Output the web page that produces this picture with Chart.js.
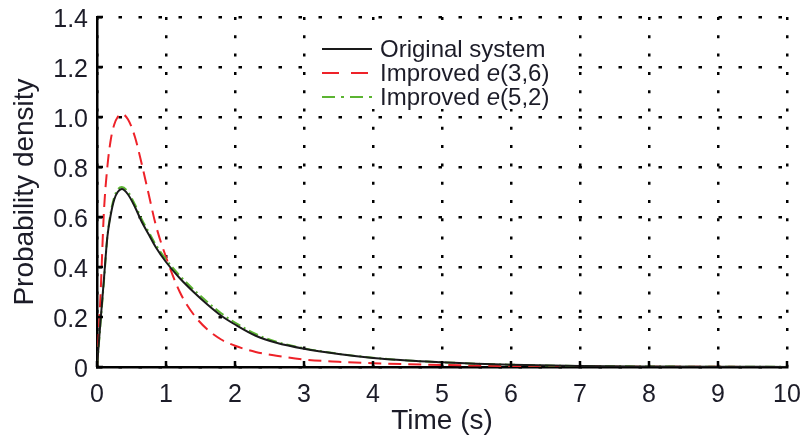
<!DOCTYPE html>
<html>
<head>
<meta charset="utf-8">
<title>Probability density</title>
<script src="https://cdn.jsdelivr.net/npm/chart.js@4/dist/chart.umd.min.js"></script>
<style>
  body { margin: 0; background: #fff; }
</style>
</head>
<body>
<canvas id="myChart" width="806" height="440"></canvas>
<script>
// time samples (s)
const times = [0, 0.05, 0.1, 0.15, 0.2, 0.25, 0.3, 0.36, 0.45, 0.55, 0.65, 0.75, 0.85, 1.0,
    1.2, 1.4, 1.6, 1.8, 2.0, 2.3, 2.6, 3.0, 3.5, 4.0, 4.5, 5.0, 5.5, 6, 7, 8, 9, 10];

const originalSystem = [0, 0.18, 0.35, 0.52, 0.61, 0.67, 0.70, 0.712, 0.69, 0.64, 0.58, 0.53, 0.48, 0.42,
    0.355, 0.30, 0.25, 0.205, 0.17, 0.125, 0.097, 0.073, 0.052, 0.036, 0.026, 0.019, 0.013, 0.009, 0.004, 0.002, 0.001, 0.0005];

const improved36 = [0, 0.28, 0.62, 0.80, 0.91, 0.97, 1.0, 1.012, 0.99, 0.92, 0.81, 0.69, 0.57, 0.44,
    0.30, 0.21, 0.15, 0.11, 0.085, 0.06, 0.045, 0.03, 0.021, 0.015, 0.011, 0.008, 0.006, 0.004, 0.002, 0.001, 0.0006, 0.0003];

const improved52 = [0, 0.17, 0.34, 0.52, 0.62, 0.68, 0.71, 0.72, 0.70, 0.65, 0.59, 0.54, 0.49, 0.43,
    0.365, 0.31, 0.26, 0.215, 0.178, 0.132, 0.101, 0.075, 0.053, 0.037, 0.026, 0.019, 0.013, 0.009, 0.004, 0.002, 0.001, 0.0005];

const seriesLabels = ['Original system', 'Improved e(3,6)', 'Improved e(5,2)'];
const xTicks = [0, 1, 2, 3, 4, 5, 6, 7, 8, 9, 10];
const yTicks = [0, 0.2, 0.4, 0.6, 0.8, 1.0, 1.2, 1.4];

const FONT = "'Liberation Sans', Arial, sans-serif";
const TEXT = '#1c1c28';

function toPoints(vals) {
    return times.map(function(t, i) { return { x: t, y: vals[i] }; });
}

// inward tick marks + legend drawn by hand (italic e)
const extras = {
    id: 'extras',
    afterDraw: function(chart) {
        const ctx = chart.ctx;
        const a = chart.chartArea;
        const xs = chart.scales.x, ys = chart.scales.y;
        ctx.save();
        ctx.strokeStyle = '#000';
        ctx.lineWidth = 2.5;
        ctx.beginPath();
        xTicks.forEach(function(v) {
            const p = xs.getPixelForValue(v);
            ctx.moveTo(p, a.bottom);
            ctx.lineTo(p, a.bottom - 6);
        });
        yTicks.forEach(function(v) {
            const p = ys.getPixelForValue(v);
            ctx.moveTo(a.left, p);
            ctx.lineTo(a.left + 6, p);
        });
        ctx.stroke();

        // legend
        ctx.fillStyle = '#fff';
        ctx.fillRect(312, 31, 262, 78);
        const rows = [49, 73, 97];
        chart.data.datasets.forEach(function(ds, i) {
            const y = rows[i];
            ctx.strokeStyle = ds.borderColor;
            ctx.lineWidth = ds.borderWidth;
            ctx.setLineDash(ds.legendDash || ds.borderDash || []);
            ctx.beginPath();
            ctx.moveTo(322, y);
            ctx.lineTo(372, y);
            ctx.stroke();
            ctx.setLineDash([]);

            ctx.fillStyle = TEXT;
            ctx.textBaseline = 'middle';
            ctx.textAlign = 'left';
            let x = 380;
            const m = ds.label.match(/^(.*?)(e)(\(.*\))$/);
            const parts = m ? [[m[1], ''], [m[2], 'italic '], [m[3], '']] : [[ds.label, '']];
            parts.forEach(function(p) {
                ctx.font = p[1] + '24px ' + FONT;
                ctx.fillText(p[0], x, y + 1);
                x += ctx.measureText(p[0]).width;
            });
        });
        ctx.restore();
    }
};

const data = {
    datasets: [{
            label: seriesLabels[0],
            data: toPoints(originalSystem),
            borderColor: '#1a1a1a',
            borderWidth: 2,
            order: 0
        },
        {
            label: seriesLabels[1],
            data: toPoints(improved36),
            borderColor: '#ee2229',
            borderWidth: 2,
            borderDash: [13, 7],
            legendDash: [17, 12],
            order: 2
        },
        {
            label: seriesLabels[2],
            data: toPoints(improved52),
            borderColor: '#5bb431',
            borderWidth: 2,
            borderDash: [10, 4, 2, 4],
            legendDash: [13, 6, 3, 6],
            order: 1
        }
    ]
};

const config = {
    type: 'line',
    data: data,
    options: {
        responsive: false,
        animation: false,
        devicePixelRatio: 1,
        layout: { padding: { left: 0, right: 19, top: 17, bottom: 0 } },
        elements: {
            point: { radius: 0 },
            line: { cubicInterpolationMode: 'monotone', fill: false }
        },
        plugins: {
            legend: { display: false },
            tooltip: { enabled: false }
        },
        scales: {
            x: {
                type: 'linear',
                min: 0,
                max: 10,
                afterFit: function(s) {
                    s.height = 73;
                    s.paddingLeft = 0;
                    s.paddingRight = 0;
                },
                ticks: {
                    stepSize: 1,
                    padding: 13,
                    color: TEXT,
                    font: { family: FONT, size: 25 },
                    maxRotation: 0
                },
                grid: { color: '#000', lineWidth: 2.5, drawTicks: false },
                border: { display: true, color: '#000', width: 2.5, dash: [3, 15.3] },
                title: {
                    display: true,
                    text: 'Time (s)',
                    color: TEXT,
                    font: { family: FONT, size: 28 },
                    padding: { top: 0, bottom: 2 }
                }
            },
            y: {
                min: 0,
                max: 1.4,
                afterFit: function(s) {
                    s.width = 97;
                    s.paddingTop = 0;
                    s.paddingBottom = 0;
                },
                ticks: {
                    stepSize: 0.2,
                    padding: 9,
                    labelOffset: 3,
                    color: TEXT,
                    font: { family: FONT, size: 25 },
                    callback: function(v) { return v === 0 ? '0' : v.toFixed(1); }
                },
                grid: { color: '#000', lineWidth: 2.5, drawTicks: false },
                border: { display: true, color: '#000', width: 2.5, dash: [3.5, 16.5] },
                title: {
                    display: true,
                    text: 'Probability density',
                    color: TEXT,
                    font: { family: FONT, size: 28 },
                    padding: { top: 8, bottom: 0 }
                }
            }
        }
    },
    plugins: [extras]
};

var myChart = new Chart(
    document.getElementById('myChart'),
    config
);
</script>
</body>
</html>
